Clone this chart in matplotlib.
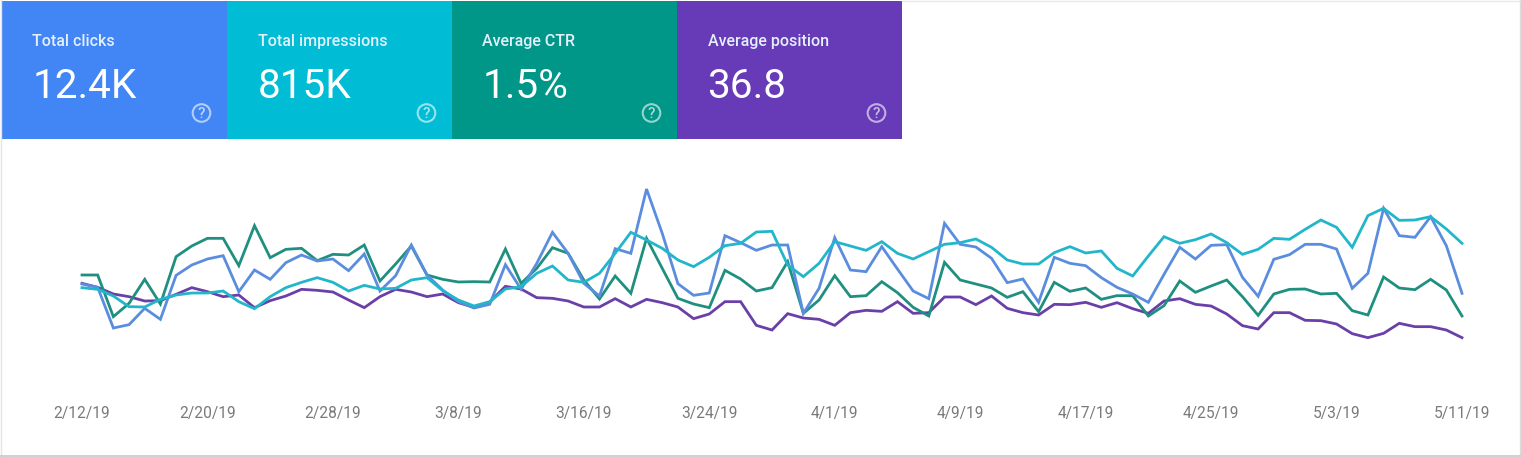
import matplotlib
matplotlib.use("Agg")
import matplotlib.pyplot as plt
import matplotlib.dates as mdates
from matplotlib.patches import Rectangle, Circle
from datetime import date, timedelta

W, H = 1521, 457

start = date(2019, 2, 12)
tick_labels = ["2/12/19", "2/20/19", "2/28/19", "3/8/19", "3/16/19", "3/24/19",
               "4/1/19", "4/9/19", "4/17/19", "4/25/19", "5/3/19", "5/11/19"]
tick_dates = [date(2019, 2, 12), date(2019, 2, 20), date(2019, 2, 28), date(2019, 3, 8),
              date(2019, 3, 16), date(2019, 3, 24), date(2019, 4, 1), date(2019, 4, 9),
              date(2019, 4, 17), date(2019, 4, 25), date(2019, 5, 3), date(2019, 5, 11)]

card_titles = ["Total clicks", "Total impressions", "Average CTR", "Average position"]
card_values = ["12.4K", "815K", "1.5%", "36.8"]
card_colors = ["#4285F4", "#00BCD4", "#009688", "#673AB7"]

# Series, as distance below the top of the plot (the
# chart has no value axis, so only the relative height is known).
clicks = [342, 352, 474, 464, 415, 448, 316, 285, 267, 257, 365, 300, 328, 278, 255, 273, 267, 302,
          252, 363, 317, 225, 315, 360, 395, 414, 403, 284, 358, 280,
          187, 250, 340, 378, 236, 250, 57, 190, 341, 376, 369, 197, 218, 241, 225, 225, 430, 355,
          203, 300, 305, 230, 297, 363, 386, 160, 223, 231, 265, 338,
          327, 397, 262, 280, 287, 323, 352, 372, 397, 313, 232, 267, 226, 224, 322, 379, 268, 254,
          223, 223, 237, 355, 310, 115, 197, 202, 140, 227, 370]
impressions = [353, 358, 378, 410, 411, 388, 375, 369, 369, 363, 395, 416, 380, 353, 337, 323, 337, 363,
               346, 357, 355, 330, 323, 362, 390, 408, 395, 357, 350, 310,
               288, 330, 337, 310, 250, 187, 210, 235, 270, 290, 262, 227, 220, 186, 184, 285, 320, 280,
               215, 228, 241, 215, 250, 267, 245, 223, 218, 207, 232, 270,
               282, 282, 248, 230, 249, 243, 295, 318, 258, 200, 220, 209, 192, 218, 253, 238, 205, 208,
               178, 150, 172, 232, 137, 115, 151, 150, 140, 177, 220]
ctr = [315, 315, 440, 400, 328, 402, 260, 228, 205, 205, 287, 167, 263, 238, 235, 272, 253, 255,
       225, 333, 282, 228, 315, 328, 336, 335, 336, 237, 340, 295,
       233, 250, 330, 387, 318, 370, 205, 295, 385, 402, 413, 301, 327, 363, 353, 275, 430, 390,
       317, 380, 377, 335, 368, 412, 438, 277, 330, 342, 354, 382,
       365, 425, 337, 364, 354, 388, 377, 377, 438, 407, 333, 367, 348, 330, 380, 436, 372, 358,
       357, 372, 370, 422, 435, 321, 354, 359, 328, 360, 438]
position = [340, 352, 372, 380, 393, 392, 373, 353, 365, 380, 375, 413, 392, 378, 358, 361, 366, 390,
            413, 380, 358, 366, 380, 372, 398, 412, 396, 349, 357, 383,
            385, 393, 411, 411, 386, 411, 388, 398, 411, 446, 432, 395, 395, 466, 480, 431, 444, 448,
            466, 428, 421, 424, 395, 430, 428, 381, 381, 404, 378, 415,
            428, 435, 403, 404, 397, 412, 398, 416, 430, 393, 386, 403, 408, 432, 467, 477, 428, 428,
            451, 452, 462, 491, 503, 490, 460, 470, 470, 480, 503]

dates = [start + timedelta(days=i) for i in range(len(clicks))]

plt.rcParams["font.family"] = ["Roboto", "DejaVu Sans"]
fig = plt.figure(figsize=(W / 100, H / 100), dpi=100, facecolor="white")

# Overlay in pixel coordinates for the tiles and the frame
bg = fig.add_axes([0, 0, 1, 1])
bg.set_xlim(0, W)
bg.set_ylim(H, 0)
bg.axis("off")

bg.plot([0.5, 0.5], [0, 455], color="#e4e4e4", lw=1)
bg.plot([1519.5, 1519.5], [0, 455], color="#dcdcdc", lw=1)
bg.plot([0, 1520], [455.5, 455.5], color="#c8c8c8", lw=1.2)
bg.plot([902, 1520], [0.5, 0.5], color="#e8e8e8", lw=1)

card_w = 225
for i, (t, v, c) in enumerate(zip(card_titles, card_values, card_colors)):
    x0 = 2 + i * card_w
    bg.add_patch(Rectangle((x0, 1), card_w, 138, facecolor=c, edgecolor="none"))
    bg.text(x0 + 30.5, 41.5, t, color="#e3f0fb", fontsize=11.5, fontweight="medium",
            ha="left", va="center")
    bg.text(x0 + 30.5, 87, v, color="white", fontsize=29.2, ha="left", va="center")
    bg.add_patch(Circle((x0 + 199.5, 113), 8.8, facecolor="none",
                        edgecolor="#ffffff", alpha=0.6, lw=1.5))
    bg.text(x0 + 199.5, 113.5, "?", color="#ffffff", alpha=0.65, fontsize=11,
            fontweight="medium", ha="center", va="center")

# Chart axes: days run from x=82 to x=1462 px, values from y=170 to y=360 px
left, right, top, bottom = 82, 1462, 170, 360
ax = fig.add_axes([left / W, 1 - bottom / H, (right - left) / W, (bottom - top) / H])
ax.patch.set_alpha(0)
ax.set_xlim(dates[0], dates[-1])
ax.set_ylim(570, 0)
for s in ax.spines.values():
    s.set_visible(False)

ax.plot(dates, position, color="#6A3FA8", lw=2.0, solid_joinstyle="miter", clip_on=False)
ax.plot(dates, ctr, color="#1F8F80", lw=2.0, solid_joinstyle="miter", clip_on=False)
ax.plot(dates, clicks, color="#5B8DDE", lw=2.0, solid_joinstyle="miter", clip_on=False)
ax.plot(dates, impressions, color="#22B6CA", lw=2.0, solid_joinstyle="miter", clip_on=False)

ax.set_yticks([])
ax.set_xticks([mdates.date2num(d) for d in tick_dates])
ax.set_xticklabels(tick_labels, fontsize=11.2, color="#7a7a7a")
ax.tick_params(axis="x", length=0, pad=33)

fig.savefig("out.png", dpi=100, facecolor="white")
